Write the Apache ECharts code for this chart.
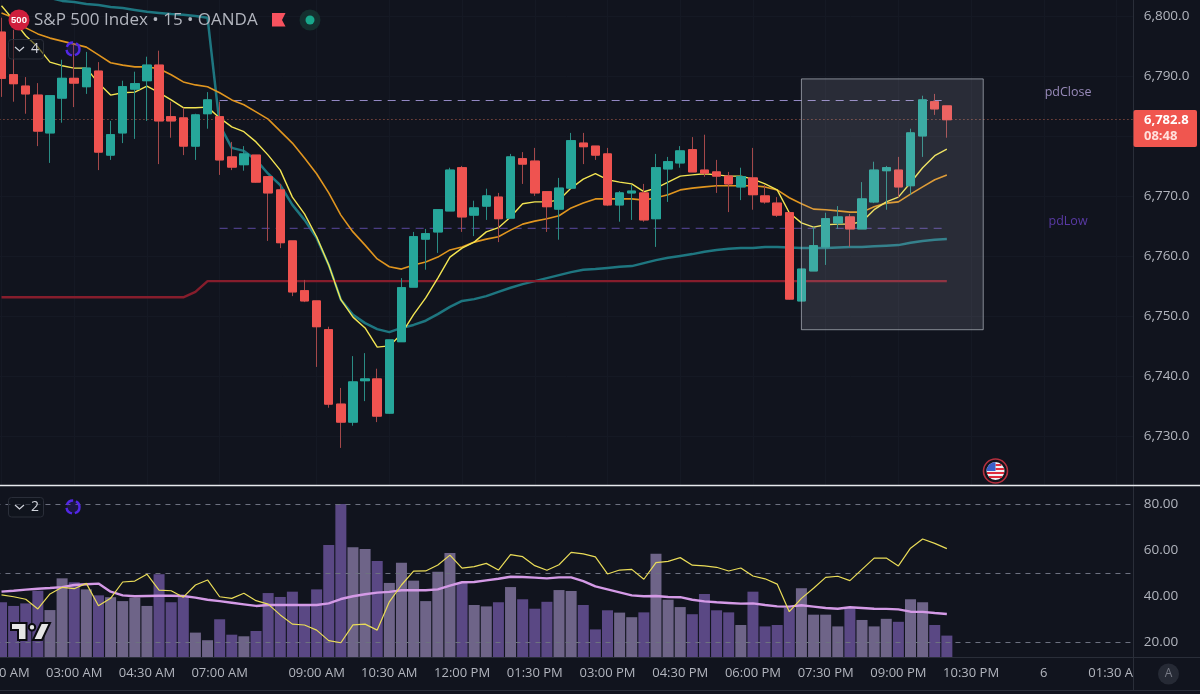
<!DOCTYPE html>
<html>
<head>
<meta charset="utf-8">
<style>html,body{margin:0;padding:0;background:#11141e}#chart{width:1200px;height:694px}</style>
<script src="https://cdn.jsdelivr.net/npm/echarts@6/dist/echarts.min.js"></script>
</head>
<body>
<div id="chart"></div>
<script>
// one label every 6 bars, except across the session gap
const timeTicks = [[0, '01:30 AM'], [6, '03:00 AM'], [12, '04:30 AM'], [18, '07:00 AM'], [26, '09:00 AM'], [32, '10:30 AM'],
  [38, '12:00 PM'], [44, '01:30 PM'], [50, '03:00 PM'], [56, '04:30 PM'], [62, '06:00 PM'], [68, '07:30 PM'],
  [74, '09:00 PM'], [80, '10:30 PM'], [86, '6'], [92, '01:30 AM']]
const priceTicks = [6730, 6740, 6750, 6760, 6770, 6780, 6790, 6800]
const rsiTicks = [20, 40, 60, 80]
const rsiBands = [20, 50, 80]

const opens = [6797.4, 6790.3, 6788.4, 6786.9, 6780.6, 6786.4, 6789.7, 6788.3, 6790.9, 6776.9,
  6780.6, 6787.9, 6789.3, 6791.9, 6783.3, 6783.1, 6778.4, 6783.8, 6783.3, 6776.6,
  6775.3, 6776.9, 6773.3, 6771.1, 6762.6, 6754.3, 6752.6, 6747.8, 6735.4, 6732.4,
  6739.3, 6739.6, 6733.9, 6745.8, 6754.9, 6762.9, 6764.1, 6767.6, 6774.8, 6766.9,
  6768.4, 6769.9, 6766.4, 6776.3, 6775.9, 6770.8, 6767.9, 6771.4, 6778.9, 6778.4,
  6777.1, 6768.6, 6770.6, 6770.6, 6766.3, 6774.6, 6775.6, 6777.8, 6774.4, 6774.1,
  6773.4, 6771.6, 6773.1, 6770.1, 6768.9, 6767.3, 6752.6, 6757.6, 6761.6, 6765.6,
  6766.6, 6764.6, 6769.1, 6774.3, 6774.4, 6771.8, 6780.1, 6785.8, 6785.1]
const closes = [6789.7, 6788.8, 6787.1, 6780.9, 6786.8, 6789.7, 6788.9, 6791.4, 6777.4, 6780.3,
  6788.3, 6788.8, 6791.9, 6782.6, 6782.6, 6778.4, 6783.6, 6786.1, 6776.1, 6774.9,
  6777.1, 6772.4, 6770.6, 6762.3, 6754.1, 6752.6, 6748.3, 6735.4, 6732.4, 6739.1,
  6739.6, 6733.4, 6746.1, 6754.8, 6763.3, 6763.8, 6767.8, 6774.4, 6766.6, 6768.1,
  6770.1, 6766.3, 6776.6, 6775.4, 6770.6, 6768.3, 6771.4, 6779.3, 6778.3, 6776.9,
  6768.6, 6770.6, 6770.9, 6766.1, 6774.8, 6775.8, 6777.6, 6774.1, 6773.9, 6773.4,
  6772.1, 6773.3, 6770.3, 6769.1, 6766.9, 6752.9, 6757.9, 6761.8, 6766.3, 6766.6,
  6764.6, 6769.6, 6774.4, 6774.8, 6771.6, 6780.6, 6786.1, 6784.6, 6782.8]
const lows = [6786.6, 6785.8, 6783.8, 6778.4, 6775.6, 6782.3, 6784.9, 6787.1, 6774.4, 6776.1,
  6778.9, 6779.6, 6782.6, 6775.4, 6779.8, 6776.9, 6776.1, 6781.3, 6773.6, 6774.4,
  6774.3, 6772.3, 6762.6, 6761.4, 6753.4, 6752.4, 6741.6, 6734.8, 6728.1, 6731.8,
  6735.9, 6732.4, 6733.8, 6745.8, 6754.9, 6757.8, 6760.6, 6767.6, 6764.1, 6763.4,
  6766.1, 6762.4, 6766.4, 6772.1, 6770.1, 6764.1, 6762.8, 6771.4, 6775.4, 6776.1,
  6768.4, 6765.8, 6766.1, 6765.8, 6761.6, 6769.1, 6774.8, 6774.1, 6773.3, 6770.6,
  6767.4, 6769.4, 6767.8, 6768.8, 6766.6, 6752.8, 6752.6, 6757.6, 6758.6, 6764.6,
  6761.6, 6764.6, 6768.9, 6767.8, 6769.8, 6770.3, 6776.6, 6783.6, 6779.8]
const highs = [6799.8, 6797.8, 6789.9, 6788.9, 6786.8, 6792.8, 6795.3, 6794.1, 6792.4, 6782.6,
  6789.3, 6790.8, 6793.3, 6794.3, 6785.8, 6784.8, 6783.8, 6787.4, 6785.8, 6779.1,
  6778.4, 6776.9, 6773.3, 6772.1, 6762.6, 6756.1, 6752.6, 6748.3, 6738.1, 6743.4,
  6743.9, 6741.3, 6746.1, 6756.4, 6764.1, 6764.6, 6767.8, 6774.8, 6775.1, 6769.3,
  6771.3, 6770.6, 6777.1, 6777.4, 6778.1, 6770.8, 6773.1, 6780.6, 6780.6, 6778.4,
  6778.1, 6770.9, 6771.9, 6772.1, 6777.1, 6776.6, 6778.4, 6779.9, 6780.3, 6776.1,
  6774.1, 6774.8, 6778.1, 6771.9, 6769.9, 6767.3, 6757.9, 6764.9, 6767.3, 6768.4,
  6767.1, 6772.4, 6775.8, 6775.1, 6776.6, 6781.3, 6786.8, 6787.1, 6785.1]

const emaFast = [6801.8, 6799.4, 6796.8, 6794.9, 6792.4, 6791.8, 6791.4, 6791.4, 6788.9, 6786.9,
  6787.3, 6787.4, 6788.4, 6787.3, 6786.1, 6784.8, 6784.8, 6784.9, 6783.1, 6781.6,
  6780.8, 6779.1, 6776.9, 6774.4, 6769.9, 6767.1, 6763.3, 6758.6, 6752.8, 6749.9,
  6748.1, 6744.9, 6745.1, 6747.1, 6750.3, 6753.1, 6756.4, 6759.9, 6761.4, 6762.4,
  6764.1, 6764.8, 6766.6, 6768.8, 6769.1, 6769.1, 6769.4, 6771.4, 6772.9, 6773.8,
  6772.8, 6772.4, 6772.1, 6770.8, 6771.4, 6772.4, 6773.4, 6773.6, 6773.8, 6773.6,
  6773.4, 6773.4, 6772.9, 6772.1, 6771.1, 6767.3, 6765.6, 6764.9, 6765.3, 6765.4,
  6765.4, 6765.8, 6767.8, 6769.1, 6769.9, 6772.3, 6774.8, 6776.8, 6777.9]
const emaMid = [6800.6, 6799.8, 6798.1, 6797.1, 6796.4, 6795.9, 6795.4, 6794.9, 6793.6, 6792.3,
  6791.9, 6791.6, 6791.6, 6791.3, 6790.3, 6789.1, 6788.6, 6788.3, 6787.3, 6786.1,
  6785.3, 6784.1, 6782.9, 6780.9, 6778.9, 6776.4, 6773.8, 6770.6, 6766.9, 6764.1,
  6761.9, 6759.6, 6758.3, 6757.9, 6758.6, 6759.1, 6759.9, 6761.1, 6761.6, 6762.4,
  6762.9, 6763.3, 6764.4, 6765.4, 6765.9, 6766.3, 6766.8, 6768.1, 6768.9, 6769.6,
  6769.6, 6769.6, 6769.6, 6769.4, 6769.8, 6770.3, 6771.1, 6771.4, 6771.6, 6771.8,
  6771.8, 6771.8, 6771.8, 6771.6, 6771.1, 6769.8, 6768.8, 6767.9, 6767.8, 6767.6,
  6767.4, 6767.4, 6768.3, 6768.9, 6769.1, 6770.4, 6771.6, 6772.8, 6773.6]
const emaSlow = [6804.8, 6804.4, 6804.1, 6803.6, 6803.1, 6802.6, 6802.4, 6802.1, 6801.9, 6801.6,
  6801.4, 6801.1, 6800.8, 6800.6, 6800.4, 6800.3, 6800.1, 6799.8, 6781.9, 6778.1,
  6777.6, 6776.1, 6773.8, 6771.9, 6768.6, 6766.1, 6763.1, 6758.6, 6752.8, 6750.3,
  6748.9, 6747.9, 6747.4, 6748.1, 6748.6, 6749.3, 6750.4, 6751.6, 6752.6, 6752.9,
  6753.4, 6754.1, 6754.8, 6755.4, 6755.9, 6756.4, 6756.9, 6757.4, 6757.8, 6757.9,
  6758.1, 6758.3, 6758.4, 6758.9, 6759.4, 6759.8, 6760.1, 6760.4, 6760.8, 6761.1,
  6761.3, 6761.4, 6761.4, 6761.6, 6761.6, 6761.5, 6761.4, 6761.4, 6761.4, 6761.5,
  6761.6, 6761.6, 6761.7, 6761.8, 6761.9, 6762.3, 6762.6, 6762.8, 6762.9]

// [bar index, price]
const dailyLevel = [[0, 6753.2], [15, 6753.2], [16, 6754.1], [17, 6755.9], [78, 6755.9]]
const pdClose = [[18, 6786.0], [78, 6786.0]]
const pdLow = [[18, 6764.7], [78, 6764.7]]
const pdCloseLabel = [[88, 6787.4]]
const pdLowLabel = [[88, 6765.9]]
const boxFrom = [66, 6789.6]
const boxTo = [81, 6747.8]

const volume = [37.5, 35.9, 37.0, 42.5, 34.1, 47.9, 46.2, 43.1, 40.5, 39.7,
  38.0, 39.5, 35.9, 49.7, 37.5, 39.7, 24.3, 21.0, 30.1, 23.4,
  22.7, 25.0, 41.5, 39.8, 42.1, 36.3, 43.1, 62.4, 80.2, 61.4,
  60.7, 55.4, 45.9, 54.7, 46.9, 38.0, 50.8, 58.9, 46.0, 36.3,
  35.7, 37.5, 44.1, 38.8, 34.7, 37.7, 42.8, 42.4, 36.3, 25.7,
  34.0, 33.0, 31.0, 33.1, 58.6, 38.6, 35.4, 32.3, 41.1, 34.0,
  33.1, 27.6, 42.1, 27.0, 27.6, 35.0, 43.6, 32.1, 32.1, 27.0,
  35.3, 29.8, 27.0, 30.3, 29.0, 38.8, 37.5, 27.6, 23.0]
const rsi = [40.7, 39.9, 38.8, 34.6, 41.1, 44.0, 43.4, 45.7, 36.0, 39.2,
  46.3, 46.7, 49.7, 42.8, 42.5, 39.7, 45.0, 47.2, 39.9, 39.2,
  41.4, 38.2, 36.7, 32.0, 28.0, 27.6, 25.4, 20.8, 19.9, 27.7,
  28.0, 25.4, 37.7, 45.0, 51.0, 51.1, 53.7, 58.0, 52.3, 53.0,
  54.4, 51.5, 58.2, 57.3, 53.4, 51.4, 53.8, 59.2, 58.5, 57.2,
  49.8, 51.5, 51.8, 47.5, 54.7, 55.3, 56.9, 53.6, 53.3, 52.7,
  51.1, 52.4, 48.9, 47.7, 45.4, 33.4, 39.2, 43.6, 48.3, 48.8,
  46.9, 51.8, 56.7, 56.7, 53.3, 61.0, 65.0, 63.1, 60.8]
const rsiMa = [42.1, 42.5, 43.0, 43.4, 43.7, 44.1, 45.0, 45.3, 45.6, 42.1,
  40.5, 40.1, 40.2, 40.3, 40.3, 40.2, 39.5, 38.6, 38.0, 37.3,
  36.6, 35.9, 36.3, 36.3, 36.3, 36.3, 36.3, 37.0, 38.9, 40.1,
  41.0, 41.7, 42.0, 42.7, 42.7, 42.7, 43.1, 44.7, 46.2, 46.3,
  47.0, 47.7, 48.6, 48.5, 48.2, 47.9, 48.3, 48.3, 46.7, 44.4,
  43.1, 41.8, 40.5, 40.1, 40.2, 39.8, 39.7, 38.6, 37.9, 37.5,
  37.2, 36.9, 37.0, 36.3, 35.7, 35.6, 36.2, 35.6, 35.0, 34.7,
  35.3, 35.0, 34.7, 34.6, 34.4, 33.4, 33.3, 32.8, 32.4]

const UP = '#26a69a'
const DOWN = '#ef5350'
const BG = '#11141e'
const TEXT = '#b2b5be'
const FONT = '"Open Sans", sans-serif'

const categories = new Array(94).fill('')
timeTicks.forEach(t => { categories[t[0]] = t[1] })

function candles () {
  return opens.map((o, i) => [o, closes[i], lows[i], highs[i]])
}
function bodies () {
  return opens.map((o, i) => [o, closes[i], Math.min(o, closes[i]), Math.max(o, closes[i])])
}
function lineSeries (name, data, color, width, extra) {
  return Object.assign({
    name, type: 'line', data, symbol: 'none', z: 2,
    lineStyle: { color, width }, itemStyle: { color }
  }, extra)
}
function vGrid () {
  return timeTicks.map(t => ({ xAxis: t[0] }))
}
function priceLabel (name, data, color) {
  return {
    type: 'scatter', data, symbolSize: 0, z: 3,
    label: { show: true, position: 'inside', formatter: name, color, fontSize: 12.5, fontFamily: FONT }
  }
}

const chart = echarts.init(document.getElementById('chart'))

chart.setOption({
  animation: false,
  backgroundColor: BG,
  grid: [
    { left: -4.56, top: 0, width: 1139.28, height: 485, outerBoundsMode: 'none' },
    { left: -4.56, top: 486, width: 1139.28, height: 171, outerBoundsMode: 'none' }
  ],
  xAxis: [
    { type: 'category', gridIndex: 0, data: categories, boundaryGap: true,
      axisLine: { show: false }, axisTick: { show: false }, axisLabel: { show: false }, splitLine: { show: false } },
    { type: 'category', gridIndex: 1, data: categories, boundaryGap: true, z: 1,
      axisLine: { show: false }, axisTick: { show: false }, splitLine: { show: false },
      axisLabel: { interval: i => categories[i] !== '', color: TEXT, fontSize: 13, fontFamily: FONT, margin: 10 } }
  ],
  yAxis: [
    { type: 'value', gridIndex: 0, position: 'right', z: 10, scale: true, min: 6721.92, max: 6802.75,
      axisLine: { show: false }, splitLine: { show: false },
      axisTick: { show: false, customValues: priceTicks },
      axisLabel: { customValues: priceTicks, color: TEXT, fontSize: 13.5, fontFamily: FONT, margin: 9,
        formatter: v => v.toLocaleString('en-US', { minimumFractionDigits: 1 }) } },
    { type: 'value', gridIndex: 1, position: 'right', z: 10, scale: true, min: 13.7, max: 88.04,
      axisLine: { show: false }, splitLine: { show: false },
      axisTick: { show: false, customValues: rsiTicks },
      axisLabel: { customValues: rsiTicks, color: TEXT, fontSize: 13.5, fontFamily: FONT, margin: 9,
        formatter: v => v.toFixed(2) } }
  ],
  series: [
    lineSeries('emaSlow', emaSlow, '#1e7680', 2.5, {
      z: 1,
      markLine: {
        silent: true, symbol: ['none', 'none'], label: { show: false }, z: 1,
        lineStyle: { color: '#151924', width: 1, type: 'solid' },
        data: vGrid().concat(priceTicks.map(v => ({ yAxis: v })))
      }
    }),
    lineSeries('dailyLevel', dailyLevel, '#861d2c', 2.4),
    lineSeries('pdClose', pdClose, '#9388c4', 1, { lineStyle: { color: '#9388c4', width: 1, type: [8, 6] } }),
    lineSeries('pdLow', pdLow, '#5a489e', 1, { lineStyle: { color: '#5a489e', width: 1, type: [8, 6] } }),
    lineSeries('emaMid', emaMid, '#e0951f', 1.6),
    lineSeries('emaFast', emaFast, '#f3e552', 1.4, {
      markLine: {
        silent: true, symbol: ['none', 'none'], label: { show: false }, z: 3,
        lineStyle: { color: '#b0604f', width: 1, type: [1, 3] },
        data: [{ yAxis: closes[closes.length - 1] }]
      }
    }),
    { name: 'wicks', type: 'candlestick', data: candles(), barWidth: 9, z: 3,
      itemStyle: { color: UP, color0: DOWN, borderColor: '#2a8c84', borderColor0: '#a4484a', borderWidth: 1 } },
    { name: 'bodies', type: 'candlestick', data: bodies(), barWidth: 9, z: 4,
      itemStyle: { color: UP, color0: DOWN, borderColor: UP, borderColor0: DOWN, borderWidth: 1 },
      markArea: {
        silent: true, z: 6,
        itemStyle: { color: 'rgba(205,210,225,0.13)', borderColor: 'rgba(190,195,205,0.65)', borderWidth: 1 },
        data: [[{ coord: boxFrom }, { coord: boxTo }]]
      } },
    priceLabel('pdClose', pdCloseLabel, '#b9a7e0'),
    priceLabel('pdLow', pdLowLabel, '#6a42c4'),

    { name: 'volume', type: 'bar', xAxisIndex: 1, yAxisIndex: 1, data: volume, barWidth: 11, z: 2,
      itemStyle: { color: p => (closes[p.dataIndex] >= opens[p.dataIndex] ? '#6e6488' : '#5a4884') } },
    lineSeries('rsi', rsi, '#eadc58', 1.2, { xAxisIndex: 1, yAxisIndex: 1, z: 4 }),
    lineSeries('rsiMa', rsiMa, '#d49ae6', 2.4, {
      xAxisIndex: 1, yAxisIndex: 1, z: 3,
      markLine: {
        silent: true, symbol: ['none', 'none'], label: { show: false }, z: 3,
        lineStyle: { color: '#6d7180', width: 1, type: [5, 5] },
        data: rsiBands.map(v => ({ yAxis: v }))
      }
    })
  ],
  graphic: { elements: [
    // right scale panel, covers the end of the last time label
    { type: 'rect', z: 5, shape: { x: 1133, y: 0, width: 67, height: 694 }, style: { fill: BG } },
    { type: 'rect', z: 5, shape: { x: 0, y: 690, width: 1200, height: 4 }, style: { fill: BG } },
    { type: 'line', z: 6, shape: { x1: 1133.5, y1: 0, x2: 1133.5, y2: 690 }, style: { stroke: '#2a2e39', lineWidth: 1 } },
    { type: 'line', z: 6, shape: { x1: 0, y1: 657.5, x2: 1200, y2: 657.5 }, style: { stroke: '#2a2e39', lineWidth: 1 } },
    { type: 'line', z: 6, shape: { x1: 0, y1: 690.5, x2: 1200, y2: 690.5 }, style: { stroke: '#2a2e39', lineWidth: 1 } },
    { type: 'line', z: 7, shape: { x1: 0, y1: 485.5, x2: 1200, y2: 485.5 }, style: { stroke: '#e8e9ee', lineWidth: 1.6 } },

    // last price tag
    { type: 'rect', z: 20, shape: { x: 1133.5, y: 110, width: 63.5, height: 37, r: 2 }, style: { fill: '#f0564f' } },
    { type: 'text', z: 21, x: 1144, y: 120, style: { text: '6,782.8', fill: '#ffffff', font: 'bold 13px ' + FONT, textVerticalAlign: 'middle' } },
    { type: 'text', z: 21, x: 1144, y: 136, style: { text: '08:48', fill: '#ffe0dc', font: 'bold 13px ' + FONT, textVerticalAlign: 'middle' } },

    // symbol header
    { type: 'circle', z: 20, shape: { cx: 19, cy: 20, r: 10.5 }, style: { fill: '#cf1e3c' } },
    { type: 'text', z: 21, x: 19, y: 20, style: { text: '500', fill: '#ffffff', font: 'bold 9.5px "Liberation Sans"', textAlign: 'center', textVerticalAlign: 'middle' } },
    { type: 'text', z: 21, x: 34, y: 20, style: { text: 'S&P 500 Index • 15 • OANDA', fill: TEXT, font: '17px ' + FONT, textVerticalAlign: 'middle' } },
    { type: 'polygon', z: 20, shape: { points: [[272, 13], [285.5, 13], [282, 20], [285.5, 26.5], [272, 26.5]] }, style: { fill: '#f7525f' } },
    { type: 'circle', z: 20, shape: { cx: 310, cy: 20, r: 10.5 }, style: { fill: '#14302f' } },
    { type: 'circle', z: 21, shape: { cx: 310, cy: 20, r: 4.5 }, style: { fill: '#18a78b' } },

    // collapse buttons
    { type: 'rect', z: 20, shape: { x: 8.5, y: 39.5, width: 35, height: 19.5, r: 3 }, style: { fill: 'rgba(17,20,30,0.55)', stroke: '#2a2e39', lineWidth: 1 } },
    { type: 'polyline', z: 21, shape: { points: [[15, 47], [19.5, 51], [24, 47]] }, style: { stroke: '#d1d4dc', lineWidth: 1.2, fill: 'none' } },
    { type: 'text', z: 21, x: 35, y: 49, style: { text: '4', fill: '#d1d4dc', font: '14px ' + FONT, textAlign: 'center', textVerticalAlign: 'middle' } },
    { type: 'circle', z: 20, shape: { cx: 73, cy: 49, r: 6.5 }, style: { fill: 'rgba(60,30,170,0.25)', stroke: '#5227e6', lineWidth: 2.4, lineDash: [8, 3] } },
    { type: 'rect', z: 20, shape: { x: 8.5, y: 497.5, width: 35, height: 19.5, r: 3 }, style: { fill: 'rgba(17,20,30,0.55)', stroke: '#2a2e39', lineWidth: 1 } },
    { type: 'polyline', z: 21, shape: { points: [[15, 505], [19.5, 509], [24, 505]] }, style: { stroke: '#d1d4dc', lineWidth: 1.2, fill: 'none' } },
    { type: 'text', z: 21, x: 35, y: 507, style: { text: '2', fill: '#d1d4dc', font: '14px ' + FONT, textAlign: 'center', textVerticalAlign: 'middle' } },
    { type: 'circle', z: 20, shape: { cx: 73, cy: 507, r: 6.5 }, style: { fill: 'rgba(60,30,170,0.25)', stroke: '#5227e6', lineWidth: 2.4, lineDash: [8, 3] } },

    // TradingView mark
    { type: 'polygon', z: 20, shape: { points: [[11, 623], [26.5, 623], [26.5, 640], [18, 640], [18, 630], [11, 630]] }, style: { fill: '#e6e6e6', stroke: '#0b0b10', lineWidth: 2 } },
    { type: 'circle', z: 20, shape: { cx: 32, cy: 627.3, r: 3.2 }, style: { fill: '#e6e6e6', stroke: '#0b0b10', lineWidth: 2 } },
    { type: 'polygon', z: 20, shape: { points: [[41, 623], [50, 623], [42, 640], [33, 640]] }, style: { fill: '#e6e6e6', stroke: '#0b0b10', lineWidth: 2 } },

    // US session flag
    { type: 'circle', z: 20, shape: { cx: 995.5, cy: 471, r: 12 }, style: { fill: '#14141c', stroke: '#b5303e', lineWidth: 1.6 } },
    { type: 'circle', z: 21, shape: { cx: 995.5, cy: 471, r: 9 }, style: { fill: '#f1f1f4' } },
    { type: 'rect', z: 22, shape: { x: 995.5, y: 464, width: 6, height: 2 }, style: { fill: '#dd2c3c' } },
    { type: 'rect', z: 22, shape: { x: 995.5, y: 468, width: 8.4, height: 2 }, style: { fill: '#dd2c3c' } },
    { type: 'rect', z: 22, shape: { x: 987, y: 472, width: 17, height: 2 }, style: { fill: '#dd2c3c' } },
    { type: 'rect', z: 22, shape: { x: 989, y: 476, width: 13, height: 2 }, style: { fill: '#dd2c3c' } },
    { type: 'sector', z: 23, shape: { cx: 995.5, cy: 471, r: 9, r0: 0, startAngle: Math.PI, endAngle: Math.PI * 1.5 }, style: { fill: '#3a5fc8' } },

    // auto scale button
    { type: 'circle', z: 20, shape: { cx: 1168.5, cy: 674, r: 10.5 }, style: { fill: '#262a35' } },
    { type: 'text', z: 21, x: 1168.5, y: 674, style: { text: 'A', fill: '#787b86', font: '12px ' + FONT, textAlign: 'center', textVerticalAlign: 'middle' } }
  ] }
})
</script>
</body>
</html>
